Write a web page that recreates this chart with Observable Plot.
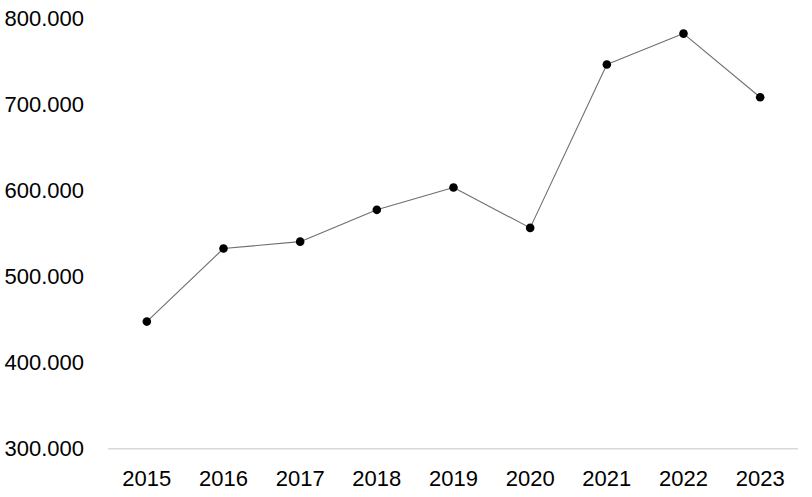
<!DOCTYPE html>
<html>
<head>
<meta charset="utf-8">
<script src="https://cdn.jsdelivr.net/npm/d3@7"></script>
<script src="https://cdn.jsdelivr.net/npm/@observablehq/plot@0.6"></script>
<style>
  html, body { margin: 0; padding: 0; background: #fff; }
  #chart { width: 812px; height: 497px; }
</style>
</head>
<body>
<div id="chart"></div>
<script>
const years = ["2015", "2016", "2017", "2018", "2019", "2020", "2021", "2022", "2023"];
const values = [448000, 533000, 541000, 578000, 604000, 557000, 747000, 783000, 709000];
const yTicks = [300000, 400000, 500000, 600000, 700000, 800000];

const data = years.map((y, i) => ({year: y, value: values[i]}));
const fmt = d => d3.format(",")(d).replace(/,/g, ".");

const chart = Plot.plot({
  width: 812,
  height: 497,
  marginLeft: 108,
  marginRight: 14,
  marginTop: 18.5,
  marginBottom: 48.7,
  style: {fontFamily: "'Liberation Sans', Arial, sans-serif", fontSize: "22px", color: "#000", background: "#fff"},
  x: {type: "point", domain: years, padding: 0.5, round: false, label: null},
  y: {domain: [300000, 800000], label: null},
  marks: [
    Plot.ruleY([300000], {stroke: "#d9d9d9", strokeWidth: 1.5}),
    Plot.axisX({tickSize: 0, tickPadding: 22, label: null, fill: "#000"}),
    Plot.axisY({ticks: yTicks, tickSize: 0, tickPadding: 0, textAnchor: "start", dx: -104, tickFormat: fmt, label: null, fill: "#000"}),
    Plot.line(data, {x: "year", y: "value", stroke: "#6e6e6e", strokeWidth: 1.1}),
    Plot.dot(data, {x: "year", y: "value", r: 4.3, fill: "#000", stroke: "none"})
  ]
});
document.getElementById("chart").appendChild(chart);
</script>
</body>
</html>
